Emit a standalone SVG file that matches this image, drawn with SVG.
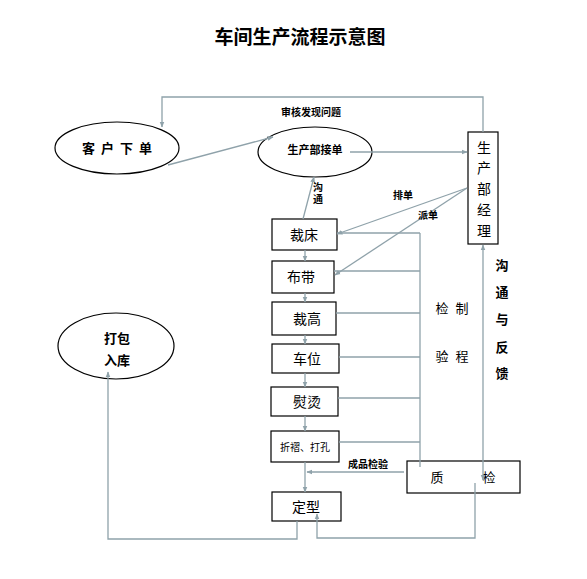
<svg xmlns="http://www.w3.org/2000/svg" width="587" height="579" viewBox="0 0 587 579">
<defs>
<marker id="ar" viewBox="0 0 10 10" refX="9" refY="5" markerWidth="6" markerHeight="6" orient="auto-start-reverse" markerUnits="userSpaceOnUse">
<path d="M0,1 L10,5 L0,9 z" fill="#8fa2aa"/>
</marker>
<style>
text{font-family:"Liberation Sans","Noto Sans CJK SC",sans-serif;fill:#000;text-anchor:middle;dominant-baseline:central}
.c{fill:none;stroke:#8fa2aa;stroke-width:1.3}
.a{marker-end:url(#ar)}
.n{fill:#fff;stroke:#000;stroke-width:1.2}
.b{font-weight:bold}
.box{font-size:14px}
.sm{font-size:10px;font-weight:bold}
</style>
</defs>
<rect width="587" height="579" fill="#fff"/>
<text x="300" y="35" style="font-size:19px;font-weight:bold;font-family:'Noto Sans CJK SC',serif">车间生产流程示意图</text>

<g id="n-kehu"><ellipse class="n" cx="117" cy="148" rx="62" ry="26"/><text x="117" y="148" class="b" style="font-size:13px;letter-spacing:6px" dx="3">客户下单</text></g>
<g id="n-jiedan"><ellipse class="n" cx="315" cy="152" rx="57" ry="25"/><text x="315" y="150" class="b" style="font-size:11px">生产部接单</text></g>
<g id="n-jingli"><rect class="n" x="468" y="132" width="30" height="112"/>
<text x="484" y="148" style="font-size:14px">生</text><text x="484" y="168" style="font-size:14px">产</text><text x="484" y="189" style="font-size:14px">部</text><text x="484" y="210" style="font-size:14px">经</text><text x="484" y="231" style="font-size:14px">理</text></g>
<g id="n-caichuang"><rect class="n" x="272" y="219" width="65" height="31"/><text x="304" y="235" class="box">裁床</text></g>
<g id="n-budai"><rect class="n" x="272" y="261" width="62" height="32"/><text x="301" y="277" class="box">布带</text></g>
<g id="n-caigao"><rect class="n" x="272" y="302" width="64" height="33"/><text x="307" y="319" class="box">裁高</text></g>
<g id="n-chewei"><rect class="n" x="272" y="344" width="67" height="29"/><text x="307" y="359" class="box">车位</text></g>
<g id="n-yuntang"><rect class="n" x="271" y="387" width="67" height="29"/><text x="307" y="402" class="box">熨烫</text></g>
<g id="n-zhezhe"><rect class="n" x="271" y="431" width="68" height="31"/><text x="305" y="447" style="font-size:10px">折褶、打孔</text></g>
<g id="n-dingxing"><rect class="n" x="272" y="492" width="69" height="29"/><text x="306" y="507" class="box">定型</text></g>
<g id="n-zhijian"><rect class="n" x="407" y="461" width="113" height="32"/><text x="437" y="477" style="font-size:13px">质</text><text x="489" y="477" style="font-size:13px">检</text></g>
<g id="n-dabao"><ellipse class="n" cx="116" cy="346" rx="58" ry="33"/><text x="117" y="338" class="b" style="font-size:13px">打包</text><text x="117" y="360" class="b" style="font-size:13px">入库</text></g>

<g id="connectors">
<polyline class="c a" points="483,132 483,97 162,97 162,127"/>
<line class="c a" x1="168" y1="165" x2="273" y2="137"/>
<line class="c a" x1="350" y1="152" x2="467" y2="152"/>
<line class="c a" x1="303" y1="219" x2="314" y2="177"/>
<line class="c a" x1="467" y1="188" x2="337" y2="234"/>
<line class="c a" x1="467" y1="188" x2="335" y2="275"/>
<line class="c a" x1="305" y1="250" x2="305" y2="261"/>
<line class="c a" x1="305" y1="293" x2="305" y2="302"/>
<line class="c a" x1="305" y1="335" x2="305" y2="344"/>
<line class="c a" x1="305" y1="373" x2="305" y2="387"/>
<line class="c a" x1="305" y1="416" x2="305" y2="431"/>
<line class="c a" x1="305" y1="462" x2="305" y2="492"/>
<line class="c" x1="337" y1="233" x2="420" y2="233"/>
<line class="c" x1="334" y1="271" x2="420" y2="271"/>
<line class="c" x1="336" y1="313" x2="420" y2="313"/>
<line class="c" x1="339" y1="357" x2="420" y2="357"/>
<line class="c" x1="338" y1="398" x2="420" y2="398"/>
<line class="c" x1="339" y1="442" x2="420" y2="442"/>
<line class="c" x1="420" y1="233" x2="420" y2="467"/>
<line class="c a" x1="404" y1="472" x2="307" y2="472"/>
<line class="c a" style="marker-start:url(#ar)" x1="483" y1="245" x2="483" y2="480"/>
<polyline class="c a" points="475,483 475,538 317,538 317,514"/>
<polyline class="c a" points="297,521 297,539 108,539 108,372"/>
</g>

<g id="labels">
<text x="311" y="112" class="sm">审核发现问题</text>
<text x="318" y="187" class="sm">沟</text><text x="318" y="199" class="sm">通</text>
<text x="403" y="195" class="sm">排单</text>
<text x="428" y="215" class="sm">派单</text>
<text x="368" y="464" class="sm">成品检验</text>
<text x="442" y="308" style="font-size:13px">检</text><text x="462" y="308" style="font-size:13px">制</text>
<text x="442" y="356" style="font-size:13px">验</text><text x="462" y="356" style="font-size:13px">程</text>
<text x="502" y="265" class="b" style="font-size:13px">沟</text>
<text x="502" y="292" class="b" style="font-size:13px">通</text>
<text x="502" y="319" class="b" style="font-size:13px">与</text>
<text x="502" y="347" class="b" style="font-size:13px">反</text>
<text x="502" y="373" class="b" style="font-size:13px">馈</text>
</g>
</svg>
